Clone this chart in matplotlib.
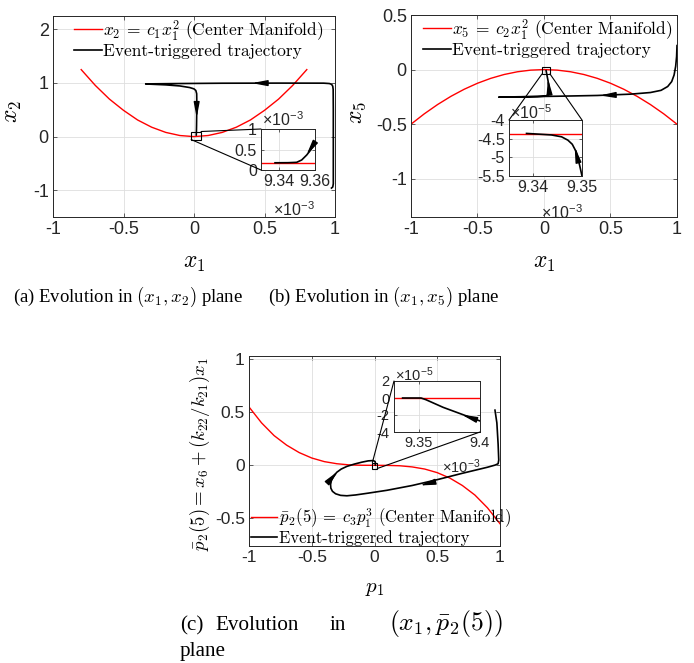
import matplotlib
matplotlib.use('Agg')
import matplotlib.pyplot as plt
from matplotlib.patches import Rectangle, ConnectionPatch

# ---- dados ----
# (a) plano (x1, x2)
a_cm_x = [-0.8, -0.7, -0.6, -0.5, -0.4, -0.3, -0.2, -0.1, 0.0, 0.1, 0.2, 0.3, 0.4, 0.5, 0.6, 0.7, 0.8]
a_cm_y = [1.25, 0.955, 0.70, 0.49, 0.31, 0.175, 0.078, 0.02, 0.0, 0.02, 0.078, 0.175, 0.31, 0.49, 0.70, 0.955, 1.25]
a_traj_x = [0.975, 0.984, 0.988, 0.988, 0.988, 0.988, 0.987, 0.984, 0.976, 0.96, 0.92, 0.6, 0.2, -0.1, -0.343,
            -0.31, -0.2, -0.1, -0.03, 0.0, 0.013, 0.019, 0.02, 0.019, 0.018, 0.017, 0.016]
a_traj_y = [-0.96, -0.94, -0.88, -0.5, 0.0, 0.5, 0.88, 0.94, 0.975, 0.99, 0.997, 0.998, 0.996, 0.99, 0.983,
            0.978, 0.965, 0.945, 0.915, 0.89, 0.86, 0.8, 0.6, 0.4, 0.2, 0.08, 0.03]
a_arrows = [((0.52, 0.998), (0.41, 0.998)), ((0.019, 0.62), (0.019, 0.35))]
a_in_cm_x = [9.33e-3, 9.36e-3]
a_in_cm_y = [0.175e-3, 0.175e-3]
a_in_traj_x = [9.36e-3, 9.3576e-3, 9.3554e-3, 9.3526e-3, 9.3498e-3, 9.345e-3, 9.3378e-3]
a_in_traj_y = [0.69e-3, 0.49e-3, 0.366e-3, 0.244e-3, 0.187e-3, 0.178e-3, 0.176e-3]
a_in_arrow = ((9.3585e-3, 0.58e-3), (9.3552e-3, 0.36e-3))
a_box = (-0.02, -0.055, 0.05, 0.095)

# (b) plano (x1, x5)
b_cm_x = [-1.0, -0.9, -0.8, -0.7, -0.6, -0.5, -0.4, -0.3, -0.2, -0.1, 0.0, 0.1, 0.2, 0.3, 0.4, 0.5, 0.6, 0.7, 0.8, 0.9, 1.0]
b_cm_y = [-0.5, -0.405, -0.32, -0.245, -0.18, -0.125, -0.08, -0.045, -0.02, -0.005, 0.0,
          -0.005, -0.02, -0.045, -0.08, -0.125, -0.18, -0.245, -0.32, -0.405, -0.5]
b_traj_x = [1.0, 0.997, 0.99, 0.978, 0.96, 0.93, 0.88, 0.8, 0.65, 0.4, 0.1, -0.2, -0.34,
            -0.2, -0.05, 0.01, 0.03, 0.037, 0.036, 0.03, 0.022, 0.016]
b_traj_y = [0.22, 0.12, 0.03, -0.05, -0.11, -0.155, -0.19, -0.21, -0.225, -0.237, -0.244, -0.249, -0.252,
            -0.25, -0.247, -0.243, -0.232, -0.2, -0.15, -0.1, -0.05, -0.01]
b_arrows = [((0.52, -0.233), (0.42, -0.237)), ((0.036, -0.16), (0.03, -0.085))]
b_in_cm_x = [9.335e-3, 9.35e-3]
b_in_cm_y = [-4.37e-5, -4.37e-5]
b_in_traj_x = [9.35e-3, 9.3495e-3, 9.3488e-3, 9.348e-3, 9.3471e-3, 9.3458e-3, 9.3437e-3, 9.3406e-3, 9.3386e-3]
b_in_traj_y = [-5.5e-5, -5.205e-5, -4.85e-5, -4.65e-5, -4.54e-5, -4.45e-5, -4.40e-5, -4.375e-5, -4.36e-5]
b_in_arrow = ((9.3492e-3, -5.1e-5), (9.3485e-3, -4.72e-5))
b_box = (-0.015, -0.04, 0.045, 0.02)

# (c) plano (p1, p2_bar(5))
c_cm_x = [-1.0, -0.9, -0.8, -0.7, -0.6, -0.5, -0.4, -0.3, -0.2, -0.1, 0.0, 0.1, 0.2, 0.3, 0.4, 0.5, 0.6, 0.7, 0.8, 0.9, 1.0]
c_cm_y = [0.55, 0.40, 0.28, 0.19, 0.12, 0.069, 0.035, 0.015, 0.004, 0.0006, 0.0,
          -0.0006, -0.004, -0.015, -0.035, -0.069, -0.12, -0.19, -0.28, -0.40, -0.55]
c_traj_x = [0.96, 0.975, 0.985, 0.99, 0.985, 0.96, 0.9, 0.7, 0.5, 0.3, 0.1, -0.05, -0.15, -0.22, -0.27,
            -0.31, -0.335, -0.348, -0.35, -0.343, -0.325, -0.30, -0.265, -0.22, -0.16, -0.1, -0.05,
            -0.01, 0.005, 0.008, 0.006]
c_traj_y = [0.52, 0.4, 0.2, 0.05, 0.015, 0.002, -0.018, -0.075, -0.135, -0.19, -0.235, -0.262, -0.279, -0.287,
            -0.283, -0.268, -0.245, -0.215, -0.18, -0.14, -0.1, -0.065, -0.035, -0.01, 0.012, 0.03, 0.042,
            0.045, 0.035, 0.018, 0.003]
c_arrows = [((0.46, -0.162), (0.36, -0.19)), ((-0.325, -0.1), (-0.29, -0.055))]
c_in_cm_x = [9.33e-3, 9.40e-3]
c_in_cm_y = [0.0, 0.0]
c_in_traj_x = [9.40e-3, 9.37e-3, 9.356e-3, 9.352e-3, 9.337e-3]
c_in_traj_y = [-2.7e-5, -1.1e-5, -0.2e-5, 0.0, 0.0]
c_in_arrow = ((9.396e-3, -2.5e-5), (9.385e-3, -1.95e-5))
c_box = (-0.017, -0.03, 0.022, 0.026)

x_ticks = [-1, -0.5, 0, 0.5, 1]
x_tick_labels = ['-1', '-0.5', '0', '0.5', '1']
traj_label = 'Event-triggered trajectory'

W, H = 694, 663
plt.rcParams['font.family'] = 'Liberation Sans'
plt.rcParams['mathtext.fontset'] = 'cm'
plt.rcParams['axes.unicode_minus'] = False

fig = plt.figure(figsize=(W / 100, H / 100), dpi=100)


def px_axes(l, t, r, b):
    return fig.add_axes([l / W, 1 - b / H, (r - l) / W, (b - t) / H])


def px_text(x, y, s, **kw):
    return fig.text(x / W, 1 - y / H, s, **kw)


def style(ax, fs):
    ax.tick_params(direction='in', top=True, right=True, labelsize=fs, colors='0.15',
                   length=3, width=0.5, pad=3)
    for s in ax.spines.values():
        s.set_color('0.15')
        s.set_linewidth(0.7)
    ax.grid(True, color='0.87', lw=0.6)
    ax.set_axisbelow(True)


def arrows(ax, lst):
    for tail, tip in lst:
        ax.annotate('', xy=tip, xytext=tail,
                    arrowprops=dict(arrowstyle='-|>,head_length=0.9,head_width=0.17',
                                    color='k', lw=1.0, shrinkA=0, shrinkB=0))


def zoom_box(ax, axin, box, pairs):
    x0, y0, x1, y1 = box
    ax.add_patch(Rectangle((x0, y0), x1 - x0, y1 - y0, fill=False, ec='k', lw=0.8, zorder=5))
    for pa, pb in pairs:
        fig.add_artist(ConnectionPatch(xyA=pa, coordsA=ax.transData, xyB=pb, coordsB=axin.transAxes,
                                       color='k', lw=0.8))


def legend(ax, handles, labels, size, **kw):
    ax.legend(handles, labels, frameon=False, prop={'family': 'cmr10', 'size': size},
              handlelength=1.6, handletextpad=0.1, borderaxespad=0, borderpad=0.1,
              labelspacing=0.05, **kw)


# ---------------- (a) ----------------
ax = px_axes(53, 16, 335, 217)
style(ax, 13)
l1, = ax.plot(a_cm_x, a_cm_y, color='red', lw=1.0)
l2, = ax.plot(a_traj_x, a_traj_y, color='k', lw=1.2)
arrows(ax, a_arrows)
ax.set_xlim(-1, 1)
ax.set_ylim(-1.5, 2.25)
ax.set_xticks(x_ticks, x_tick_labels)
ax.set_yticks([-1, 0, 1, 2], ['-1', '0', '1', '2'])
legend(ax, [l1, l2], [r'$x_2\:=\:c_1x_1^2$ (Center Manifold)', traj_label], 12.5,
       loc='upper left', bbox_to_anchor=(0.068, 1.0))
ax.set_xlabel(r'$x_1$', fontsize=17)
ax.xaxis.set_label_coords(0.5, (217 - 263) / 201)
ax.xaxis.label.set_va('center')
ax.set_ylabel(r'$x_2$', fontsize=17)
ax.yaxis.set_label_coords((13 - 53) / 282, (217 - 112) / 201)
ax.yaxis.label.set_va('center')

axin = px_axes(261, 129, 315, 170)
style(axin, 11.5)
axin.tick_params(length=2)
axin.plot(a_in_cm_x, a_in_cm_y, color='red', lw=1.0)
axin.plot(a_in_traj_x, a_in_traj_y, color='k', lw=1.2)
arrows(axin, [a_in_arrow])
axin.set_xlim(9.33e-3, 9.36e-3)
axin.set_ylim(0, 1e-3)
axin.set_xticks([9.34e-3, 9.36e-3], ['9.34', '9.36'])
axin.set_yticks([0, 0.5e-3, 1e-3], ['0', '0.5', '1'])
zoom_box(ax, axin, a_box, [((a_box[2], a_box[3]), (0, 1)), ((a_box[0], a_box[1]), (0, 0))])
px_text(262, 120, r'×10$^{\mathregular{-3}}$', fontsize=11.5, color='0.15', va='center', ha='left')
px_text(315, 210, r'×10$^{\mathregular{-3}}$', fontsize=11.5, color='0.15', va='center', ha='right')

# ---------------- (b) ----------------
ax = px_axes(411, 15, 677, 217)
style(ax, 13)
l1, = ax.plot(b_cm_x, b_cm_y, color='red', lw=1.0)
l2, = ax.plot(b_traj_x, b_traj_y, color='k', lw=1.2)
arrows(ax, b_arrows)
ax.set_xlim(-1, 1)
ax.set_ylim(-1.35, 0.5)
ax.set_xticks(x_ticks, x_tick_labels)
ax.set_yticks([-1, -0.5, 0, 0.5], ['-1', '-0.5', '0', '0.5'])
legend(ax, [l1, l2], [r'$x_5\:=\:c_2x_1^2$ (Center Manifold)', traj_label], 12.5,
       loc='upper left', bbox_to_anchor=(0.038, 1.0))
ax.set_xlabel(r'$x_1$', fontsize=17)
ax.xaxis.set_label_coords(0.5, (217 - 263) / 202)
ax.xaxis.label.set_va('center')
ax.set_ylabel(r'$x_5$', fontsize=17)
ax.yaxis.set_label_coords((357 - 411) / 266, (217 - 113) / 202)
ax.yaxis.label.set_va('center')

axin = px_axes(509, 120, 582, 176)
style(axin, 11.5)
axin.tick_params(length=2)
axin.plot(b_in_cm_x, b_in_cm_y, color='red', lw=1.0)
axin.plot(b_in_traj_x, b_in_traj_y, color='k', lw=1.2)
arrows(axin, [b_in_arrow])
axin.set_xlim(9.335e-3, 9.35e-3)
axin.set_ylim(-5.5e-5, -4e-5)
axin.set_xticks([9.34e-3, 9.35e-3], ['9.34', '9.35'])
axin.set_yticks([-5.5e-5, -5e-5, -4.5e-5, -4e-5], ['-5.5', '-5', '-4.5', '-4'])
zoom_box(ax, axin, b_box, [((b_box[0], b_box[1]), (0, 1)), ((b_box[2], b_box[1]), (1, 1))])
px_text(510, 113, r'×10$^{\mathregular{-5}}$', fontsize=11.5, color='0.15', va='center', ha='left')
px_text(583, 213, r'×10$^{\mathregular{-3}}$', fontsize=11.5, color='0.15', va='center', ha='right')

# ---------------- (c) ----------------
ax = px_axes(249, 356, 500, 546)
style(ax, 12.5)
l1, = ax.plot(c_cm_x, c_cm_y, color='red', lw=1.0)
l2, = ax.plot(c_traj_x, c_traj_y, color='k', lw=1.2)
arrows(ax, c_arrows)
ax.set_xlim(-1, 1)
ax.set_ylim(-0.76, 1.03)
ax.set_xticks(x_ticks, x_tick_labels)
ax.set_yticks([-0.5, 0, 0.5, 1], ['-0.5', '0', '0.5', '1'])
legend(ax, [l1, l2], [r'$\bar{p}_2(5)\:=\:c_3p_1^3$ (Center Manifold)', traj_label], 12,
       loc='lower left', bbox_to_anchor=(0.0, -0.01))
ax.set_xlabel(r'$p_1$', fontsize=15)
ax.xaxis.set_label_coords(0.5, (546 - 588) / 190)
ax.xaxis.label.set_va('center')
ax.set_ylabel(r'$\bar{p}_2(5) = x_6 + (k_{22}/k_{21})x_1$', fontsize=13.5)
ax.yaxis.set_label_coords((200 - 249) / 251, (546 - 454) / 190)
ax.yaxis.label.set_va('center')

axin = px_axes(394, 381, 480, 432)
style(axin, 10.5)
axin.tick_params(length=2)
axin.plot(c_in_cm_x, c_in_cm_y, color='red', lw=1.0)
axin.plot(c_in_traj_x, c_in_traj_y, color='k', lw=1.2)
arrows(axin, [c_in_arrow])
axin.set_xlim(9.33e-3, 9.40e-3)
axin.set_ylim(-4e-5, 2e-5)
axin.set_xticks([9.35e-3, 9.40e-3], ['9.35', '9.4'])
axin.set_yticks([-4e-5, -2e-5, 0, 2e-5], ['-4', '-2', '0', '2'])
zoom_box(ax, axin, c_box, [((c_box[0], c_box[3]), (0, 1)), ((c_box[2], c_box[1]), (1, 0))])
px_text(395, 375, r'×10$^{\mathregular{-5}}$', fontsize=10.5, color='0.15', va='center', ha='left')
px_text(481, 467, r'×10$^{\mathregular{-3}}$', fontsize=10.5, color='0.15', va='center', ha='right')

# ---------------- legendas das subfiguras ----------------
cap = dict(family='Liberation Serif', fontsize=13.5, va='baseline', ha='left')
px_text(13, 302, r'(a) Evolution in $(x_1, x_2)$ plane', **cap)
px_text(268, 302, r'(b) Evolution in $(x_1, x_5)$ plane', **cap)

txt_c = dict(family='Liberation Serif', fontsize=15.2, va='baseline', ha='left')
px_text(180, 630, '(c)', **txt_c)
px_text(215, 630, 'Evolution', **txt_c)
px_text(330, 630, 'in', **txt_c)
px_text(503, 630, r'$(x_1, \bar{p}_2(5))$', fontsize=18.5, va='baseline', ha='right')
px_text(180, 656, 'plane', **txt_c)

fig.savefig('out.png', dpi=100)
